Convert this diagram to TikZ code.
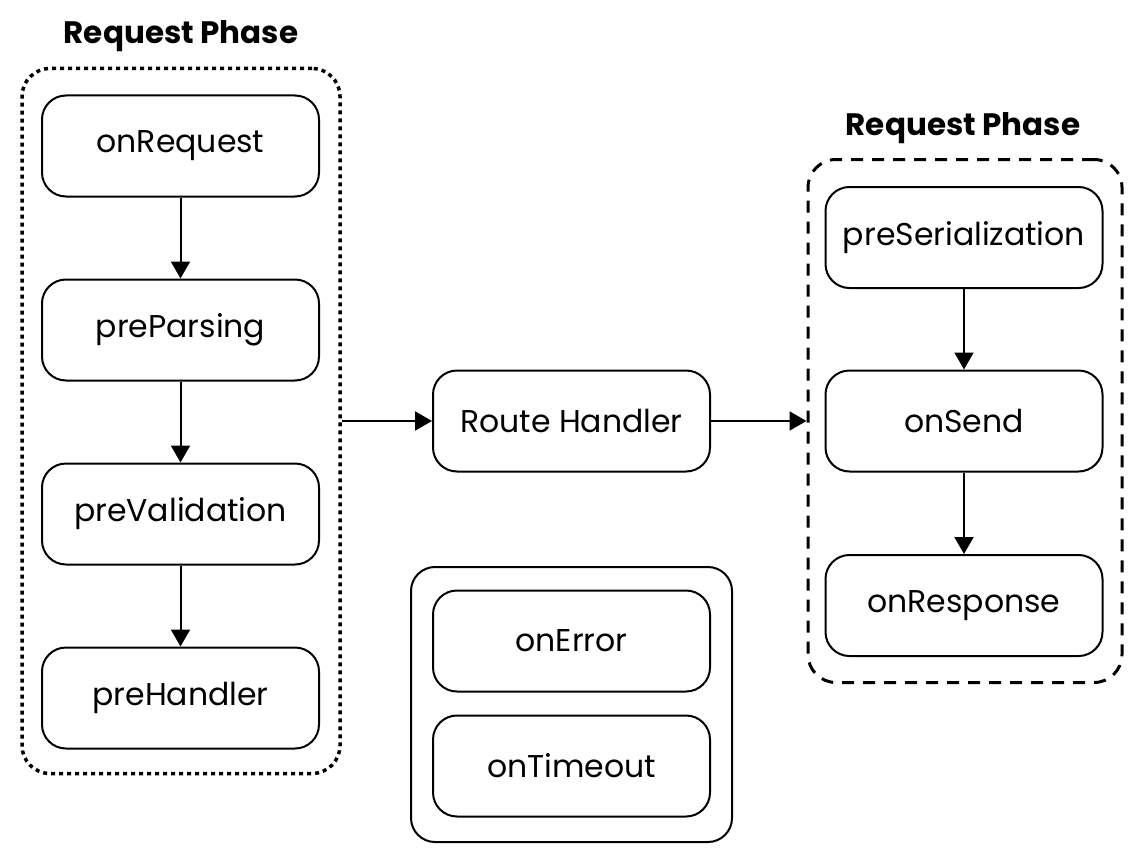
\documentclass[tikz,border=0pt]{standalone}
\usepackage{fontspec}
\setmainfont{Poppins}
\usetikzlibrary{arrows.meta}
\tikzset{hookbox/.style={rounded corners=24pt,draw,line width=2pt,minimum width=277pt,minimum height=101pt,align=center,font=\fontsize{31.5}{36}\selectfont},
  phase/.style={rounded corners=28pt,draw,line width=3.5pt},
  holder/.style={rounded corners=24pt,draw,line width=2pt},
  title/.style={font=\fontsize{31}{36}\selectfont\bfseries},
  flow/.style={-{Triangle[length=17pt,width=19pt]},line width=2pt}}
\begin{document}
\begin{tikzpicture}[x=1pt,y=-1pt]
  \useasboundingbox (0,0) rectangle (1145,864);
  % request phase (left)
  \node[title] (reqtitle) at (181,36) {Request Phase};
  \node[phase,dash pattern=on 4pt off 4pt,minimum width=318pt,minimum height=705pt] (reqgroup) at (181,421) {};
  \node[hookbox] (onreq) at (180.5,146) {onRequest};
  \node[hookbox] (preparse) at (180.5,330) {preParsing};
  \node[hookbox] (prevalid) at (180.5,514) {preValidation};
  \node[hookbox] (prehand) at (180.5,698) {preHandler};
  \draw[flow] (onreq) -- (preparse);
  \draw[flow] (preparse) -- (prevalid);
  \draw[flow] (prevalid) -- (prehand);
  % route
  \node[hookbox] (route) at (571.5,421) {Route Handler};
  \draw[flow] (reqgroup.east) -- (route.west);
  % error hooks
  \node[holder,minimum width=321pt,minimum height=275pt] (errgroup) at (571.5,704.5) {};
  \node[hookbox] (onerr) at (571.5,641) {onError};
  \node[hookbox] (ontime) at (571.5,766) {onTimeout};
  % reply phase (right)
  \node[title] (restitle) at (963,128) {Request Phase};
  \node[phase,dash pattern=on 12pt off 9pt,line width=3pt,minimum width=314pt,minimum height=523pt] (resgroup) at (965,421) {};
  \node[hookbox] (preser) at (964,237.5) {preSerialization};
  \node[hookbox] (onsend) at (964,421) {onSend};
  \node[hookbox] (onresp) at (964,605.5) {onResponse};
  \draw[flow] (preser) -- (onsend);
  \draw[flow] (onsend) -- (onresp);
  \draw[flow] (route.east) -- (resgroup.west);
\end{tikzpicture}
\end{document}
